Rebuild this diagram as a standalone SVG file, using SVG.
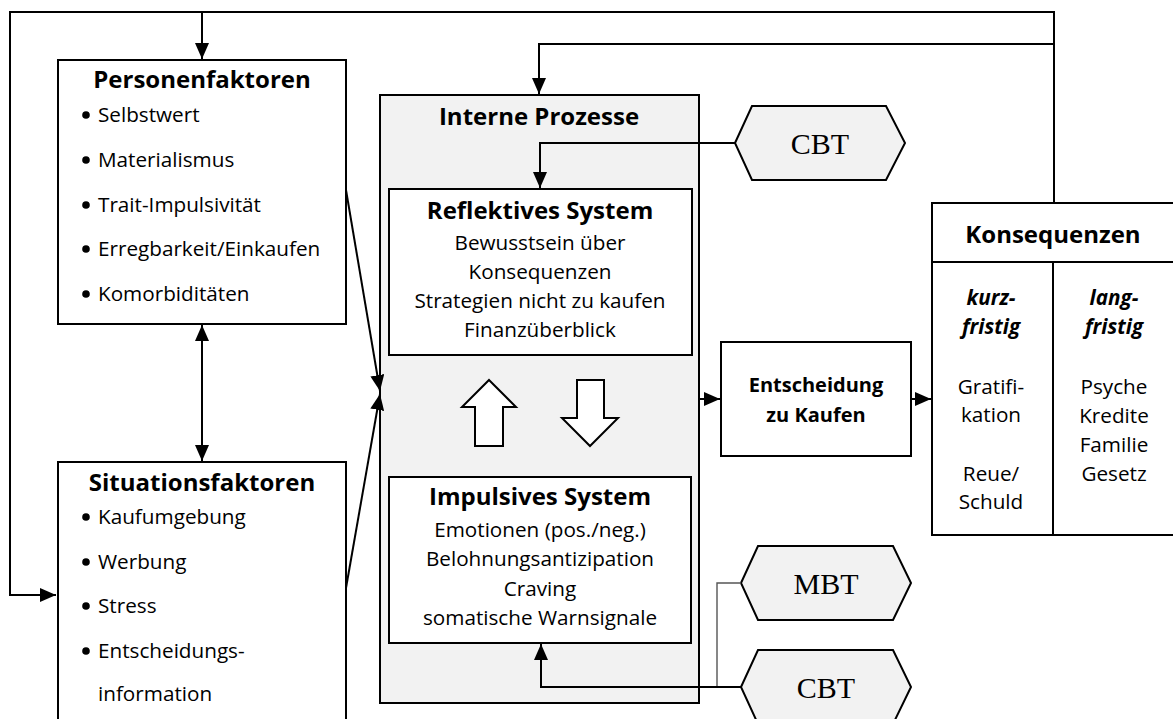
<svg xmlns="http://www.w3.org/2000/svg" width="1173" height="719" viewBox="0 0 1173 719">
<style>
  .box{fill:#fff;stroke:#000;stroke-width:2}
  .gbox{fill:#f2f2f2;stroke:#000;stroke-width:2}
  .ln{fill:none;stroke:#000;stroke-width:2}
  .thin{fill:none;stroke:#555;stroke-width:1.4}
  .t{font-family:"Open Sans","Noto Sans","Liberation Sans",sans-serif;font-size:20.7px;fill:#000}
  .c{text-anchor:middle}
  .b{font-weight:bold;font-size:20px}
  .h{font-family:"Open Sans","Noto Sans","Liberation Sans",sans-serif;font-size:24px;font-weight:bold;fill:#000;text-anchor:middle}
  .s{font-family:"Liberation Serif","Times New Roman",serif;font-size:30px;fill:#000;text-anchor:middle}
  .i{font-style:italic;font-weight:bold}
</style>
<defs>
  <marker id="ah" markerUnits="userSpaceOnUse" markerWidth="16" markerHeight="14" refX="16" refY="7" orient="auto-start-reverse">
    <path d="M0,0 L16,7 L0,14 z" fill="#000"/>
  </marker>
</defs>

<g id="personenfaktoren">
  <rect class="box" x="58" y="60" width="288" height="264"/>
  <text class="h" x="202" y="88">Personenfaktoren</text>
  <g fill="#000">
    <circle cx="86" cy="115" r="3.8"/><circle cx="86" cy="160" r="3.8"/><circle cx="86" cy="205" r="3.8"/><circle cx="86" cy="249" r="3.8"/><circle cx="86" cy="294" r="3.8"/>
  </g>
  <text class="t" x="98" y="122">Selbstwert</text>
  <text class="t" x="98" y="167">Materialismus</text>
  <text class="t" x="98" y="212">Trait-Impulsivität</text>
  <text class="t" x="98" y="256">Erregbarkeit/Einkaufen</text>
  <text class="t" x="98" y="301">Komorbiditäten</text>
</g>

<g id="situationsfaktoren">
  <rect class="box" x="58" y="462" width="288" height="270"/>
  <text class="h" x="202" y="491">Situationsfaktoren</text>
  <g fill="#000">
    <circle cx="86" cy="517" r="3.8"/><circle cx="86" cy="562" r="3.8"/><circle cx="86" cy="606" r="3.8"/><circle cx="86" cy="651" r="3.8"/>
  </g>
  <text class="t" x="98" y="524">Kaufumgebung</text>
  <text class="t" x="98" y="569">Werbung</text>
  <text class="t" x="98" y="613">Stress</text>
  <text class="t" x="98" y="658">Entscheidungs-</text>
  <text class="t" x="98" y="701">information</text>
</g>

<g id="interne-prozesse">
  <rect class="gbox" x="380" y="95" width="319" height="608"/>
  <text class="h" x="539" y="125">Interne Prozesse</text>
</g>

<g id="reflektives-system">
  <rect class="box" x="389" y="189" width="303" height="166"/>
  <text class="h" x="540" y="219">Reflektives System</text>
  <text class="t c" x="540" y="250">Bewusstsein über</text>
  <text class="t c" x="540" y="279">Konsequenzen</text>
  <text class="t c" x="540" y="308">Strategien nicht zu kaufen</text>
  <text class="t c" x="540" y="337">Finanzüberblick</text>
</g>

<g id="pfeile">
  <polygon points="489,380 516,407 503,407 503,446 475,446 475,407 462,407" fill="#fff" stroke="#000" stroke-width="2"/>
  <polygon points="577,380 604,380 604,418 618,418 590,446 562,418 577,418" fill="#fff" stroke="#000" stroke-width="2"/>
</g>

<g id="impulsives-system">
  <rect class="box" x="389" y="477" width="302" height="166"/>
  <text class="h" x="540" y="505">Impulsives System</text>
  <text class="t c" x="540" y="537">Emotionen (pos./neg.)</text>
  <text class="t c" x="540" y="566">Belohnungsantizipation</text>
  <text class="t c" x="540" y="596">Craving</text>
  <text class="t c" x="540" y="625">somatische Warnsignale</text>
</g>

<g id="cbt-oben">
  <polygon class="gbox" points="735,143 752,106 886,106 905,143 886,180 752,180"/>
  <text class="s" x="820" y="154">CBT</text>
</g>

<g id="mbt">
  <polygon class="gbox" points="741,583 758,546 893,546 911,583 893,620 758,620"/>
  <text class="s" x="826" y="594">MBT</text>
</g>

<g id="cbt-unten">
  <polygon class="gbox" points="741,687 758,650 893,650 911,687 893,724 758,724"/>
  <text class="s" x="826" y="698">CBT</text>
</g>

<g id="entscheidung">
  <rect class="box" x="721" y="342" width="190" height="114"/>
  <text class="t b c" x="816" y="392">Entscheidung</text>
  <text class="t b c" x="816" y="422">zu Kaufen</text>
</g>

<g id="konsequenzen">
  <rect class="box" x="932" y="203" width="250" height="332"/>
  <line class="ln" x1="932" y1="262" x2="1174" y2="262"/>
  <line class="ln" x1="1053" y1="262" x2="1053" y2="535"/>
  <text class="h" x="1053" y="243">Konsequenzen</text>
  <text class="t i c" x="991" y="305">kurz-</text>
  <text class="t i c" x="991" y="334">fristig</text>
  <text class="t c" x="991" y="394">Gratifi-</text>
  <text class="t c" x="991" y="422">kation</text>
  <text class="t c" x="991" y="481">Reue/</text>
  <text class="t c" x="991" y="509">Schuld</text>
  <text class="t i c" x="1114" y="305">lang-</text>
  <text class="t i c" x="1114" y="334">fristig</text>
  <text class="t c" x="1114" y="394">Psyche</text>
  <text class="t c" x="1114" y="423">Kredite</text>
  <text class="t c" x="1114" y="452">Familie</text>
  <text class="t c" x="1114" y="481">Gesetz</text>
</g>

<g id="connectors">
  <polyline class="ln" points="1054,203 1054,12 10,12 10,595 56,595" marker-end="url(#ah)"/>
  <line class="ln" x1="202" y1="12" x2="202" y2="59" marker-end="url(#ah)"/>
  <polyline class="ln" points="1054,44 539,44 539,94" marker-end="url(#ah)"/>
  <line class="ln" x1="202" y1="325" x2="202" y2="461" marker-start="url(#ah)" marker-end="url(#ah)"/>
  <line class="ln" x1="346" y1="190" x2="380" y2="391" marker-end="url(#ah)"/>
  <line class="ln" x1="346" y1="588" x2="380" y2="394" marker-end="url(#ah)"/>
  <polyline class="ln" points="735,143 540,143 540,188" marker-end="url(#ah)"/>
  <polyline class="thin" points="741,583 717,583 717,687"/>
  <polyline class="ln" points="741,687 541,687 541,644" marker-end="url(#ah)"/>
  <line class="ln" x1="700" y1="399" x2="720" y2="399" marker-end="url(#ah)"/>
  <line class="ln" x1="912" y1="399" x2="931" y2="399" marker-end="url(#ah)"/>
</g>
</svg>
